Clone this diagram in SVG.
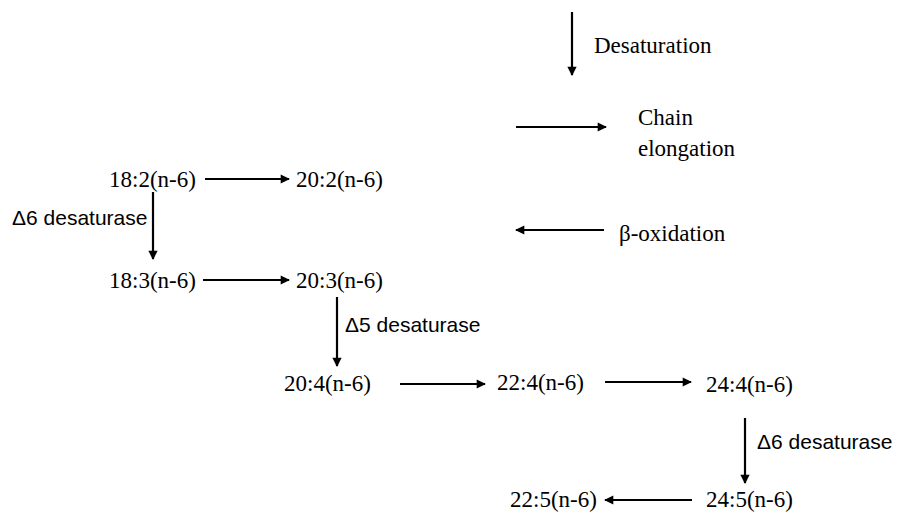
<svg xmlns="http://www.w3.org/2000/svg" width="897" height="517" viewBox="0 0 897 517">
<style>
.n{font-family:"Liberation Serif","Times New Roman",serif;font-size:23px;fill:#000}
.s{font-family:"Liberation Sans",Arial,sans-serif;font-size:21px;fill:#000}
.c line{stroke:#000;stroke-width:2.2;marker-end:url(#a)}
</style>
<defs>
<marker id="a" viewBox="0 0 10 10" refX="9" refY="5" markerWidth="5" markerHeight="4.2" orient="auto" markerUnits="strokeWidth">
<path d="M0,0 L10,5 L0,10 z" fill="#000"/>
</marker>
</defs>
<g id="connectors" class="c">
<line x1="572" y1="12" x2="572" y2="75"/>
<line x1="516" y1="127" x2="606" y2="127"/>
<line x1="604" y1="230" x2="516" y2="230"/>
<line x1="205" y1="179" x2="289" y2="179"/>
<line x1="153" y1="192" x2="153" y2="259"/>
<line x1="203" y1="280" x2="289" y2="280"/>
<line x1="337" y1="297" x2="337" y2="366"/>
<line x1="400" y1="384" x2="485" y2="384"/>
<line x1="605" y1="382" x2="691" y2="382"/>
<line x1="745" y1="418" x2="745" y2="483"/>
<line x1="692" y1="500" x2="605" y2="500"/>
</g>
<g id="legend">
<text class="n" x="594" y="53">Desaturation</text>
<text class="n" x="638" y="125">Chain</text>
<text class="n" x="638" y="156">elongation</text>
<text class="n" x="619" y="241">β-oxidation</text>
</g>
<g id="n18_2"><text class="n" x="109" y="187">18:2(n-6)</text></g>
<g id="n20_2"><text class="n" x="296" y="187">20:2(n-6)</text></g>
<g id="lbl1"><text class="s" x="12" y="225">Δ6 desaturase</text></g>
<g id="n18_3"><text class="n" x="109" y="288">18:3(n-6)</text></g>
<g id="n20_3"><text class="n" x="296" y="288">20:3(n-6)</text></g>
<g id="lbl2"><text class="s" x="345" y="332">Δ5 desaturase</text></g>
<g id="n20_4"><text class="n" x="284" y="391">20:4(n-6)</text></g>
<g id="n22_4"><text class="n" x="497" y="390">22:4(n-6)</text></g>
<g id="n24_4"><text class="n" x="706" y="392">24:4(n-6)</text></g>
<g id="lbl3"><text class="s" x="757" y="449">Δ6 desaturase</text></g>
<g id="n24_5"><text class="n" x="706" y="507">24:5(n-6)</text></g>
<g id="n22_5"><text class="n" x="510" y="507">22:5(n-6)</text></g>
</svg>
